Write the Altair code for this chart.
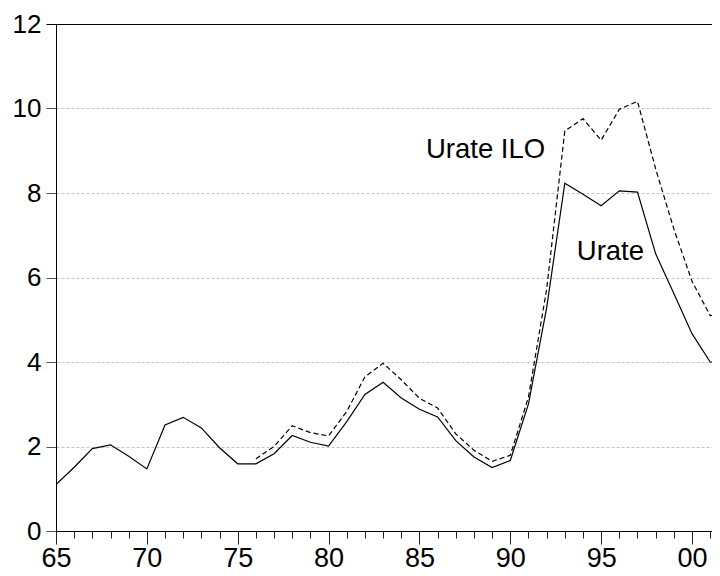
import altair as alt
import pandas as pd

years = list(range(1965, 2003))
urate = [1.10, 1.51, 1.95, 2.04, 1.77, 1.47, 2.51, 2.69, 2.44, 1.97,
         1.59, 1.59, 1.83, 2.26, 2.10, 2.01, 2.59, 3.23, 3.52, 3.15,
         2.88, 2.70, 2.14, 1.75, 1.50, 1.67, 3.01, 5.28, 8.23, 7.97,
         7.70, 8.05, 8.02, 6.56, 5.62, 4.67, 4.00, 4.00]
ilo_years = list(range(1976, 2003))
urate_ilo = [1.71, 2.00, 2.49, 2.33, 2.25, 2.83, 3.65, 3.97, 3.58, 3.14,
             2.91, 2.30, 1.91, 1.65, 1.79, 3.17, 5.72, 9.47, 9.76, 9.25,
             9.98, 10.17, 8.57, 7.15, 5.91, 5.10, 5.15]

label_text = ["Urate ILO", "Urate"]
label_x = [1985.36, 1993.66]
label_y = [8.84, 6.42]

df_u = pd.DataFrame({"year": years, "value": urate})
df_i = pd.DataFrame({"year": ilo_years, "value": urate_ilo})
df_l = pd.DataFrame({"label": label_text, "year": label_x, "value": label_y})

FONT = "Liberation Sans"
XDOM = [1965, 2001.1]

xscale = alt.Scale(domain=XDOM, nice=False, zero=False)
yscale = alt.Scale(domain=[0, 12], nice=False)

xaxis = alt.Axis(
    values=list(range(1965, 2002)),
    labelExpr="datum.value % 5 === 0 ? substring(toString(datum.value), 2, 4) : ''",
    tickSize={"condition": {"test": "datum.value % 5 === 0", "value": 13}, "value": 7},
    tickColor="#222222",
    tickWidth=1,
    labelPadding=1,
    labelFont=FONT,
    labelFontSize=27,
    labelColor="black",
    labelFlush=False,
    labelOverlap=False,
    labelBound=False,
    domainColor="black",
    domainWidth=1,
    grid=False,
    title=None,
)

yaxis = alt.Axis(
    values=[0, 2, 4, 6, 8, 10, 12],
    format="d",
    tickSize=10,
    tickColor={"condition": {"test": "datum.value === 12", "value": "black"}, "value": "#555555"},
    tickWidth=1,
    labelPadding=5,
    labelFont=FONT,
    labelFontSize=26,
    labelColor="black",
    labelFlush=False,
    labelOverlap=False,
    domainColor="black",
    domainWidth=1,
    grid=True,
    gridColor={"condition": {"test": "datum.value === 12", "value": "black"}, "value": "#c4c4c4"},
    gridDash={"condition": {"test": "datum.value === 12", "value": []}, "value": [3, 2]},
    gridOpacity={"condition": {"test": "datum.value === 0", "value": 0}, "value": 1},
    gridWidth=1,
    title=None,
)

X = alt.X("year:Q", scale=xscale, axis=xaxis)
Y = alt.Y("value:Q", scale=yscale, axis=yaxis)

solid = alt.Chart(df_u).mark_line(color="black", strokeWidth=1.2, clip=True).encode(x=X, y=Y)

dashed = alt.Chart(df_i).mark_line(
    color="black", strokeWidth=1.2, strokeDash=[5, 3], clip=True
).encode(x=X, y=Y)

labels = alt.Chart(df_l).mark_text(
    align="left", baseline="alphabetic", font=FONT, fontSize=27.5, color="black"
).encode(x=X, y=Y, text="label:N")

chart = alt.layer(solid, dashed, labels).properties(
    width=656,
    height=507,
    autosize=alt.AutoSizeParams(type="none"),
    padding={"left": 48, "top": 16, "right": 0, "bottom": 40},
    background="white",
).configure_view(stroke=None)

chart.save("out.html", embed_options={"renderer": "svg", "actions": False})
